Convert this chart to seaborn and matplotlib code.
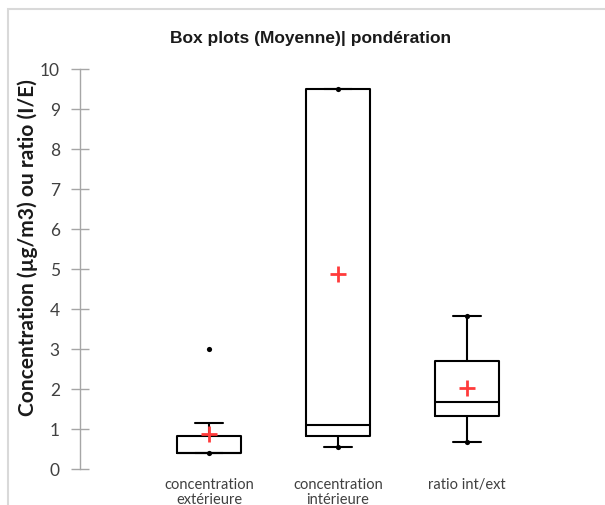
import matplotlib
matplotlib.use("Agg")
import matplotlib.pyplot as plt
from matplotlib.patches import Rectangle
import pandas as pd
import seaborn as sns

# Summary statistics per group
groups = ["concentration\nextérieure", "concentration\nintérieure", "ratio int/ext"]
whisker_low = [0.40, 0.55, 0.68]
q1 = [0.40, 0.83, 1.33]
median = [0.40, 1.10, 1.68]
q3 = [0.83, 9.50, 2.70]
whisker_high = [1.15, 9.50, 3.83]
means = [0.87, 4.87, 2.03]
minimum = [0.40, 0.55, 0.68]
maximum = [3.00, 9.50, 3.83]

sns.set_style("white")
plt.rcParams["font.family"] = ["Lato", "DejaVu Sans"]

W, H = 605, 506
fig = plt.figure(figsize=(W / 100, H / 100), dpi=100)
ax = fig.add_axes([80 / W, 1 - 470 / H, (596 - 80) / W, (470 - 70) / H])

positions = list(range(len(groups)))
stats = []
for i in positions:
    stats.append(dict(whislo=whisker_low[i], q1=q1[i], med=median[i], q3=q3[i],
                      whishi=whisker_high[i], fliers=[], label=groups[i]))

line_kw = dict(color="black", linewidth=1.5)
ax.bxp(stats, positions=positions, widths=0.5, capwidths=0.21, showfliers=False,
       boxprops=line_kw, whiskerprops=line_kw, capprops=line_kw,
       medianprops=line_kw)

# Minimum / maximum markers
ext = pd.DataFrame({"pos": positions * 2, "val": minimum + maximum})
sns.scatterplot(data=ext, x="pos", y="val", ax=ax, color="black", s=14,
                marker="o", linewidth=0, zorder=5)

# Mean markers
mdf = pd.DataFrame({"pos": positions, "val": means})
sns.scatterplot(data=mdf, x="pos", y="val", ax=ax, color="#ff3b3b", s=140,
                marker="+", linewidth=2.0, zorder=6)

ax.set_xlim(-1, 3)
ax.set_ylim(0, 10)
ax.set_yticks(range(0, 11))
ax.set_xticks(positions)
ax.set_xticklabels(groups, fontsize=10.5, color="#404040", linespacing=1.05)
ax.set_xlabel("")
ax.set_ylabel("")
ax.tick_params(axis="x", length=0, pad=6)
ax.tick_params(axis="y", direction="inout", length=13, width=1, color="#a6a6a6",
               labelsize=12.5, labelcolor="#404040", pad=8, left=True)
for side in ["top", "right", "bottom"]:
    ax.spines[side].set_visible(False)
ax.spines["left"].set_color("#a6a6a6")
ax.spines["left"].set_linewidth(1)

fig.text(311 / W, 1 - 38 / H, "Box plots (Moyenne)| pondération",
         ha="center", va="center", fontsize=12.5, fontweight="bold",
         family=["Liberation Sans", "DejaVu Sans"], color="#1a1a1a")
fig.text(28 / W, 1 - 248 / H, "Concentration (µg/m3) ou ratio (I/E)",
         ha="center", va="center", rotation=90, fontsize=15, fontweight="bold",
         color="#1a1a1a")

# Chart area frame
fig.patches.append(Rectangle((8 / W, -0.1), 1.2, 1.1 - 10 / H,
                             transform=fig.transFigure, fill=False,
                             edgecolor="#d9d9d9", linewidth=1.5))

fig.savefig("out.png", dpi=100)
